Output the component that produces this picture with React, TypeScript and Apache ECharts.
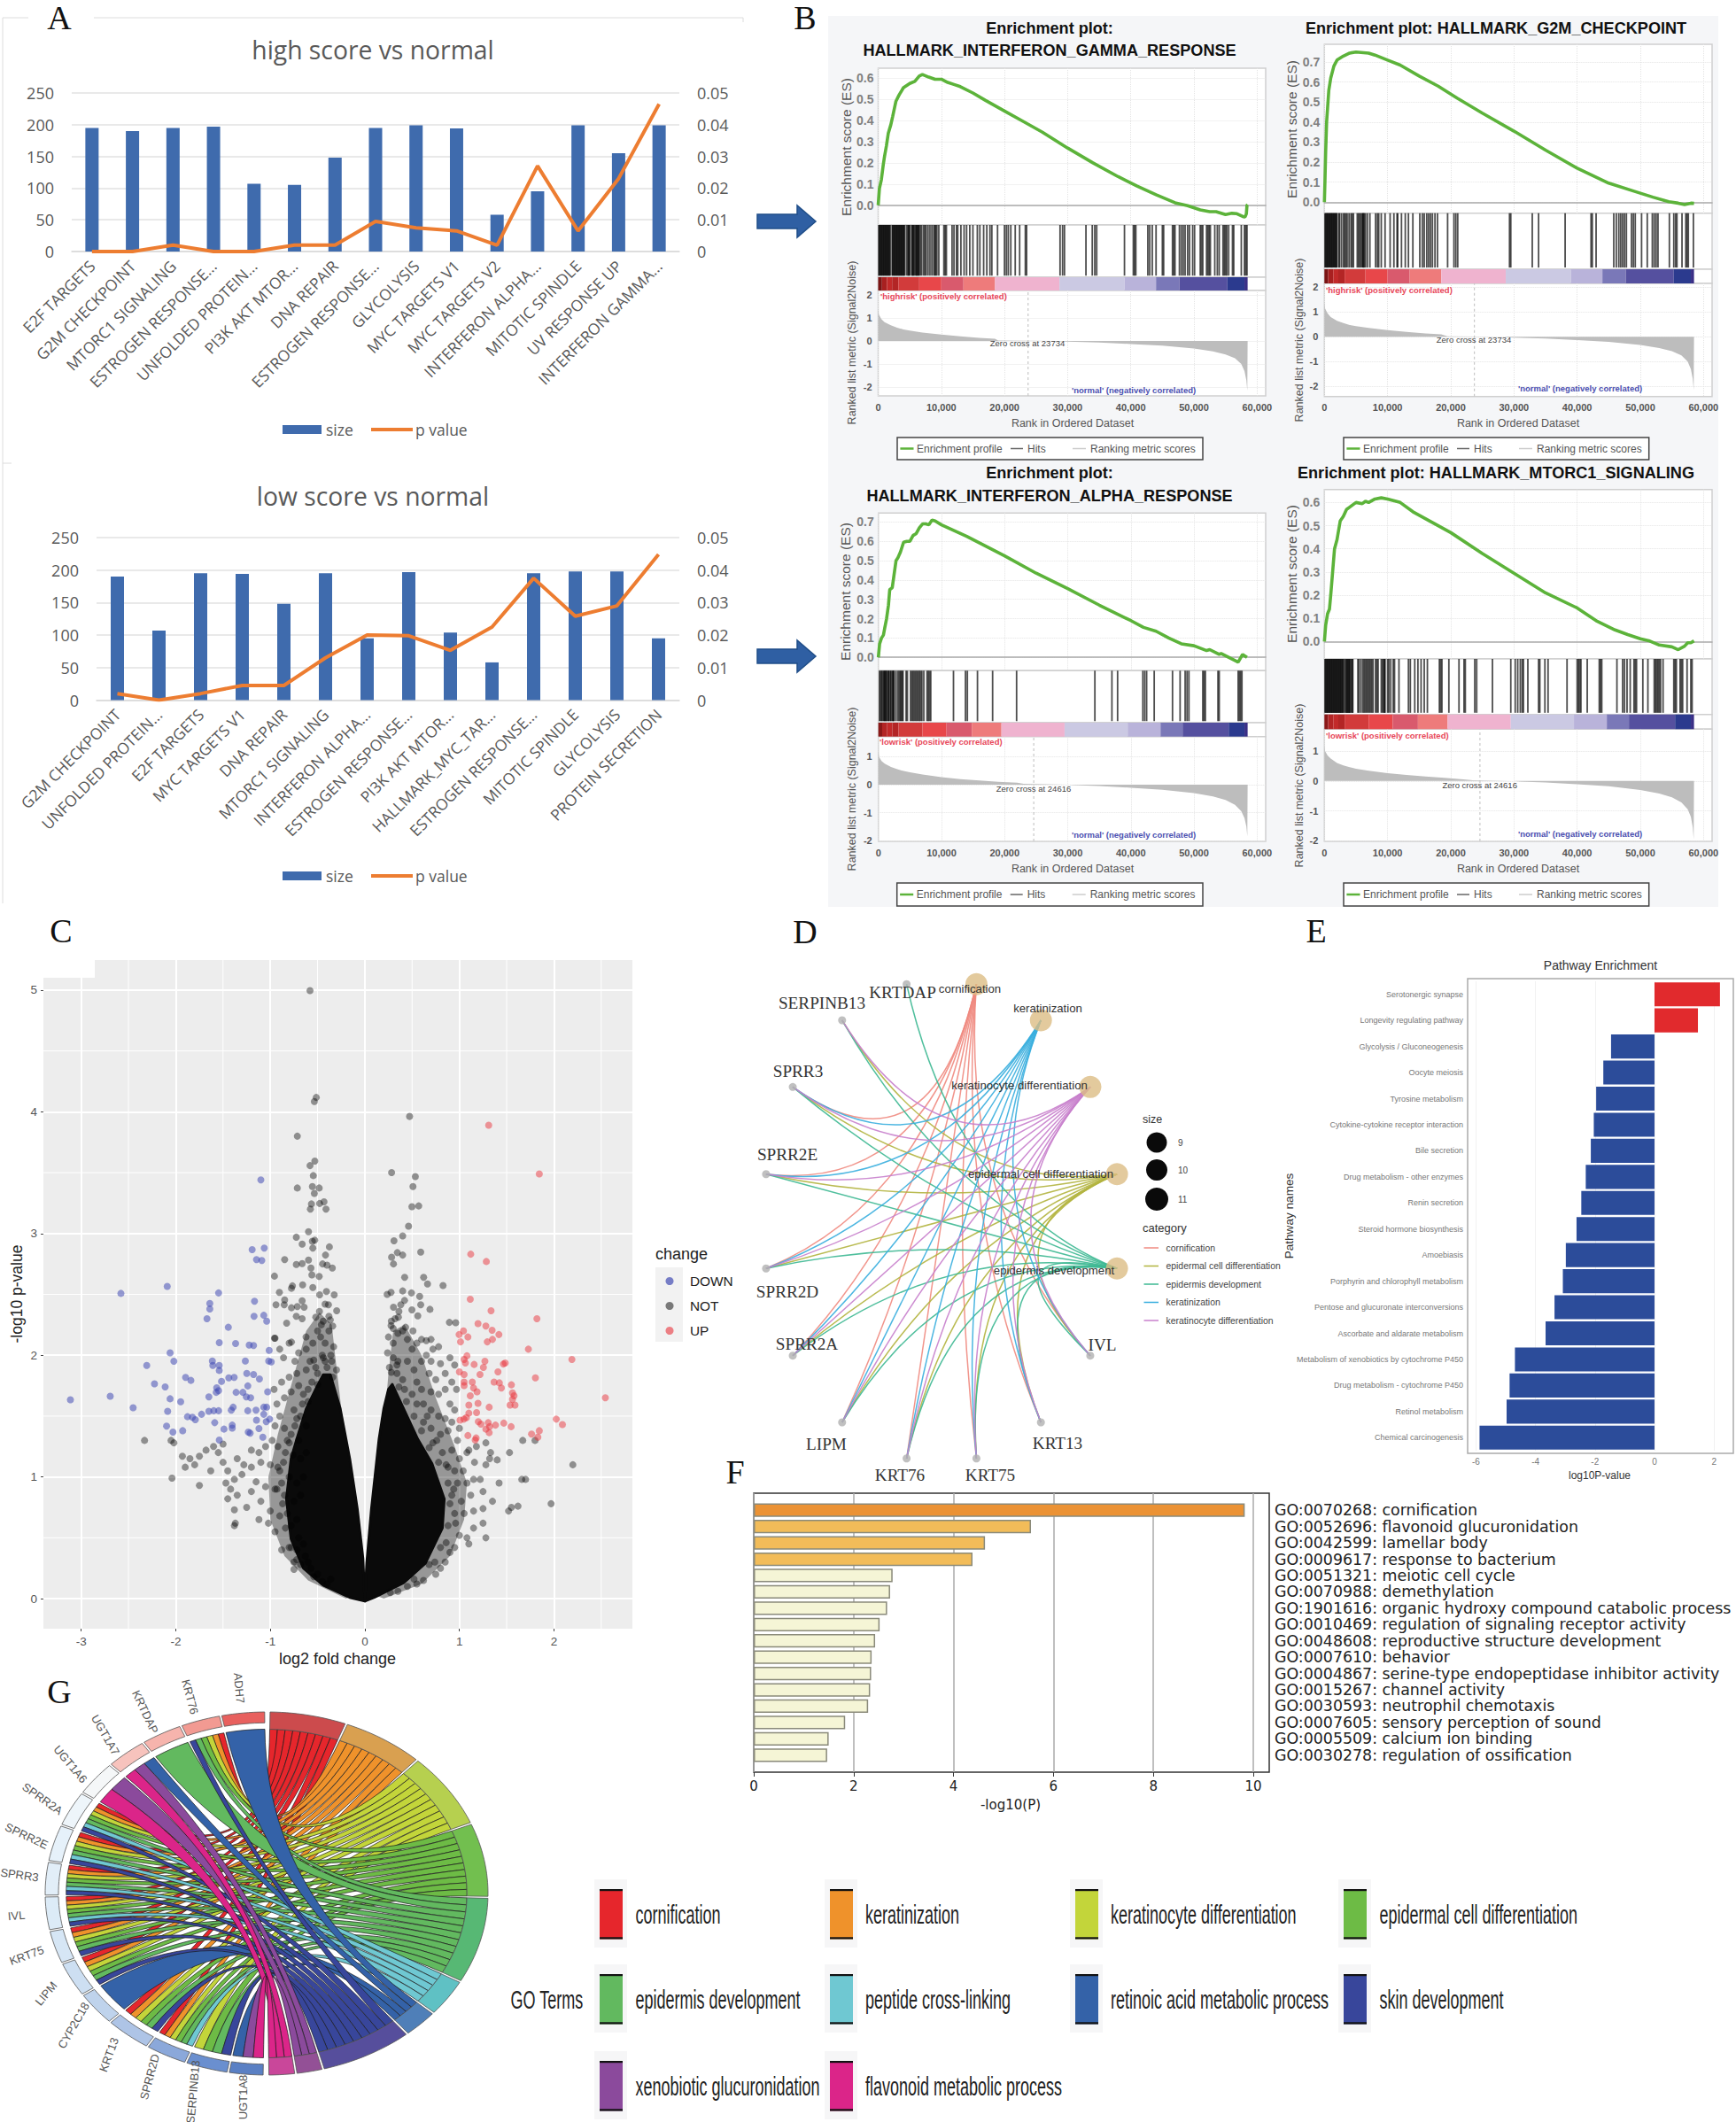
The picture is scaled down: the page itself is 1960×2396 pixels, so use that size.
import React, { useEffect, useRef } from "react";
import * as echarts from "echarts";

// ---------- Panel A ----------
const highCats = ["E2F TARGETS","G2M CHECKPOINT","MTORC1 SIGNALING","ESTROGEN RESPONSE...","UNFOLDED PROTEIN...","PI3K AKT MTOR...","DNA REPAIR","ESTROGEN RESPONSE...","GLYCOLYSIS","MYC TARGETS V1","MYC TARGETS V2","INTERFERON ALPHA...","MITOTIC SPINDLE","UV RESPONSE UP","INTERFERON GAMMA..."];
const highSize = [195,190,195,197,107,105,148,195,199,194,58,95,199,155,199];
const highP = [0,0,0.002,0,0,0.002,0.002,0.0095,0.0075,0.0065,0.002,0.027,0.0065,0.023,0.0465];
const lowCats = ["G2M CHECKPOINT","UNFOLDED PROTEIN...","E2F TARGETS","MYC TARGETS V1","DNA REPAIR","MTORC1 SIGNALING","INTERFERON ALPHA...","ESTROGEN RESPONSE...","PI3K AKT MTOR...","HALLMARK_MYC_TAR...","ESTROGEN RESPONSE...","MITOTIC SPINDLE","GLYCOLYSIS","PROTEIN SECRETION"];
const lowSize = [190,107,195,194,148,195,95,197,104,58,195,198,198,95];
const lowP = [0.002,0,0.002,0.0045,0.0045,0.013,0.02,0.0198,0.0153,0.0225,0.0375,0.0258,0.029,0.0448];

// ---------- Panel B (rank in thousands) ----------
const es1 = [[0,0],[.2,.08],[.5,.12],[.8,.19],[1,.23],[1.3,.28],[1.6,.34],[2,.38],[2.3,.42],[2.8,.49],[3.3,.52],[4,.555],[5,.575],[5.8,.585],[6.5,.61],[7,.617],[8,.605],[9,.595],[10,.595],[11,.58],[12,.57],[13,.56],[15,.53],[17,.495],[20,.445],[23,.395],[26,.345],[30,.27],[34,.2],[38,.135],[41,.09],[44,.05],[47,.012],[49,-.002],[51,-.022],[52.5,-.03],[53.5,-.03],[55,-.044],[56,-.038],[56.8,-.04],[57.8,-.054],[58.1,-.055],[58.3,-.04],[58.4,0],[58.5,.003]];
const es2 = [[0,0],[.1,.12],[.2,.25],[.35,.4],[.5,.47],[.7,.56],[1,.62],[1.5,.68],[2,.71],[3,.73],[4,.745],[5,.75],[7,.745],[8,.735],[10,.71],[12,.685],[15,.63],[18,.58],[21,.52],[25,.445],[30,.355],[35,.26],[40,.17],[45,.095],[49,.055],[52,.025],[54.5,.002],[56,-.005],[57,-.012],[58,-.005],[58.5,-.006]];
const es3 = [[0,0],[.2,.07],[.5,.1],[.8,.115],[1,.15],[1.3,.2],[1.6,.27],[1.8,.35],[2.2,.36],[2.5,.43],[2.8,.5],[3.1,.515],[3.5,.545],[4,.595],[4.5,.6],[5,.6],[5.5,.63],[6,.64],[6.5,.67],[7,.69],[7.5,.69],[8,.685],[8.5,.71],[9,.705],[10,.685],[12,.655],[14,.625],[17,.575],[20,.525],[25,.435],[30,.355],[35,.27],[40,.19],[42,.155],[44,.135],[46,.1],[48,.07],[50,.06],[52,.035],[52.5,.04],[54,.015],[54.3,.02],[57,-.025],[57.7,.015],[58.4,0]];
const es4 = [[0,0],[.2,.07],[.5,.12],[.8,.14],[1,.2],[1.3,.3],[1.6,.4],[2,.44],[2.5,.52],[3,.54],[3.5,.57],[4,.58],[5,.6],[6,.595],[6.5,.605],[7,.6],[8,.615],[9,.62],[10,.615],[12,.6],[14,.56],[17,.515],[20,.47],[25,.38],[30,.295],[35,.21],[40,.145],[43,.09],[46,.05],[48,.03],[50,.012],[51.5,.002],[53,-.015],[55,-.023],[56,-.035],[57,-.02],[57.5,-.005],[58,-.005],[58.5,.003]];
const hits1 = [.1,.2,.3,.4,.5,.6,.7,.8,.9,1,1.1,1.2,1.3,1.4,1.5,1.6,1.7,1.8,1.9,2.2,2.3,2.4,2.5,2.6,2.7,2.8,2.9,3,3.1,3.2,3.3,3.4,3.5,3.6,3.7,3.8,3.9,4,4.1,4.2,4.5,4.7,4.8,4.9,5,5.3,5.4,5.5,5.6,5.7,5.9,6,6.1,6.2,6.3,6.4,6.5,6.7,6.9,7.2,7.4,7.6,7.9,8.2,8.5,8.8,9,9.1,9.3,9.6,10.4,10.6,10.8,11.7,12,12.4,12.6,13.1,13.6,14,14.5,15,15.7,16.1,16.7,17.2,17.7,18,18.9,20,20.3,20.6,21,21.7,22.4,23.3,23.5,28.8,29.2,29.5,32.9,33.9,34.3,34.6,39,40.4,40.6,40.8,42.7,43,43.4,44,45,45.2,46.6,46.8,47,47.7,48,48.3,48.6,49,49.3,49.8,50.1,51,51.2,51.4,52,52.2,52.4,52.6,53.3,53.7,54,54.6,54.8,55,55.2,55.5,56.1,56.3,57.5,58,58.2,58.4];
const hits2 = [.1,.2,.3,.4,.5,.6,.7,.8,.9,1,1.1,1.2,1.3,1.4,1.5,1.6,1.7,1.8,1.9,2,2.3,2.4,2.7,3,3.2,3.4,3.6,3.9,4.2,4.4,4.6,5.2,5.4,5.6,5.8,6,6.1,6.2,6.3,6.5,6.8,7.2,8.1,8.4,8.6,9,9.6,10.4,11,11.5,11.6,12.2,12.8,13.3,14,15.1,15.5,15.8,16.2,16.5,16.8,17.1,17.5,17.9,19.5,20.5,20.8,21.1,29.3,29.5,32.9,33.9,38.1,42.2,42.4,43,45.8,46.2,46.6,46.9,47.2,47.5,47.8,48.6,48.9,49.2,50.2,51.1,51.9,52.2,52.5,52.8,54.6,55.3,55.6,55.8,56.6,57.2,57.4,57.6,58.4];
const hits3 = [.2,.3,.5,.6,.8,.9,1,1.1,1.2,1.3,1.5,1.6,1.7,1.9,2,2.2,2.3,2.4,2.5,2.8,3.1,3.3,3.5,3.6,3.8,3.9,4.4,4.6,5.1,5.3,5.5,5.7,5.9,6.1,6.3,6.5,6.7,6.9,7.2,7.7,7.9,8.1,8.3,11.9,13.8,14.1,15.7,18.1,21.9,34.3,37,37.9,41.9,42.2,42.5,43.7,46.6,47.8,48.6,48.9,49.2,51.4,51.6,51.8,53.8,54,57,57.2,57.4,57.6];
const hits4 = [.1,.2,.3,.4,.5,.6,.7,.8,.9,1,1.1,1.2,1.3,1.4,1.5,1.6,1.7,1.8,1.9,2,2.1,2.2,2.3,2.4,2.5,2.6,2.7,2.8,2.9,3,3.2,3.4,3.5,3.6,3.7,3.8,3.9,4,4.1,4.3,4.4,4.5,5.3,5.5,5.8,6.1,6.3,6.5,6.7,6.9,7.1,7.3,7.5,7.7,8.1,8.3,8.5,9,9.2,9.4,9.5,9.6,10,10.2,10.5,10.9,11.1,11.8,13.3,13.6,14.3,14.8,15.3,15.8,16.3,18.2,18.4,18.6,19.7,21.3,22.1,22.3,23.8,24.1,26.6,29.5,30.2,30.6,31,31.3,31.5,32.2,33.9,34.1,34.9,35.4,38.4,40,40.2,40.4,40.6,41.6,43.5,43.7,43.9,46.3,47.2,47.5,47.9,48.4,49,49.2,49.4,50.4,51.2,52.2,52.4,52.6,52.8,53,53.2,53.6,55.3,55.5,55.7,56.3,56.5,56.7,57.4,58,58.2];
const rank1 = [[0,1.4],[.1,1.15],[.5,.95],[1,.82],[2,.68],[3,.58],[4,.5],[5,.45],[7,.37],[10,.28],[13,.2],[16,.14],[18.5,.1],[19,.02],[28.5,0],[29,-.02],[30,-.03],[35,-.07],[40,-.13],[45,-.2],[50,-.33],[53,-.45],[55,-.58],[56.5,-.75],[57.5,-1],[58,-1.3],[58.3,-1.7],[58.45,-2.15],[58.5,0]];
const rank2 = [[0,1.4],[.1,1.15],[.5,.95],[1,.8],[2,.65],[3,.56],[4,.48],[5,.43],[7,.36],[10,.27],[13,.2],[16,.14],[18.5,.1],[19.5,.02],[28.5,0],[29,-.02],[30,-.03],[35,-.07],[40,-.13],[45,-.2],[50,-.33],[53,-.45],[55,-.58],[56.5,-.75],[57.5,-1],[58,-1.3],[58.3,-1.7],[58.45,-2.15],[58.5,0]];
const rank3 = [[0,1.2],[.1,1],[.5,.85],[1,.75],[2,.63],[3,.55],[4,.49],[5,.44],[7,.36],[10,.27],[13,.2],[16,.15],[19,.1],[22,.07],[23,.03],[30,0],[31,-.02],[35,-.05],[40,-.11],[45,-.18],[50,-.3],[53,-.42],[55,-.55],[56.5,-.72],[57.5,-.95],[58,-1.2],[58.3,-1.5],[58.45,-1.85],[58.5,0]];
const rank4 = [[0,1.2],[.1,1],[.5,.85],[1,.75],[2,.6],[3,.52],[4,.46],[5,.41],[7,.34],[10,.26],[13,.2],[16,.15],[19,.1],[22,.05],[23.5,.02],[30,0],[31,-.02],[35,-.05],[40,-.11],[45,-.18],[50,-.3],[53,-.42],[55,-.55],[56.5,-.72],[57.5,-.95],[58,-1.2],[58.3,-1.55],[58.45,-1.95],[58.5,0]];
const bandHigh = [[0,.6,"#7a1414"],[.6,1.4,"#a82020"],[1.4,2.2,"#c22a2a"],[2.2,3.2,"#b32525"],[3.2,6.5,"#d23b3b"],[6.5,10,"#e8474a"],[10,13.5,"#d95a6d"],[13.5,18.5,"#ee7b7b"],[18.5,28.7,"#efb3cf"],[28.7,39,"#cbc9e3"],[39,44,"#b9b3da"],[44,47.7,"#7a78b8"],[47.7,55.3,"#55509f"],[55.3,58,"#2b3a8e"],[58,58.5,"#3a2f86"]];
const bandLow = [[0,.6,"#8a1818"],[.6,1.4,"#b32525"],[1.4,2.2,"#c22a2a"],[2.2,3.2,"#b32525"],[3.2,7,"#d23b3b"],[7,10.8,"#e8474a"],[10.8,14.8,"#d95a6d"],[14.8,19.5,"#ee7b7b"],[19.5,29.5,"#efb3cf"],[29.5,39.5,"#cbc9e3"],[39.5,44.7,"#b9b3da"],[44.7,48.2,"#7a78b8"],[48.2,55.5,"#55509f"],[55.5,58,"#2b3a8e"],[58,58.5,"#3a2f86"]];
const gseaTitles = [["Enrichment plot:","HALLMARK_INTERFERON_GAMMA_RESPONSE"],["Enrichment plot: HALLMARK_G2M_CHECKPOINT"],["Enrichment plot:","HALLMARK_INTERFERON_ALPHA_RESPONSE"],["Enrichment plot: HALLMARK_MTORC1_SIGNALING"]];
const gseaPos = ["'highrisk' (positively correlated)","'highrisk' (positively correlated)","'lowrisk' (positively correlated)","'lowrisk' (positively correlated)"];
const gseaNeg = "'normal' (negatively correlated)";
const zeroCross = [23.734,23.734,24.616,24.616];

// ---------- Panel C (log2FC, -log10 p) ----------
const upPoints = [[1.31,3.89],[1.845,3.49],[1.12,2.83],[1.285,2.77],[1.115,2.46],[1.335,2.365],[1.82,2.3],[1.197,2.26],[1.28,2.24],[1.346,2.205],[1.418,2.17],[1.043,2.2],[.997,2.17],[1.09,2.15],[1.012,2.11],[1.295,2.11],[1.35,2.13],[1.73,2.05],[2.19,1.965],[1.08,1.995],[1.05,1.965],[1.064,1.936],[1.156,1.924],[1.27,1.95],[1.254,1.9],[1.485,1.936],[1.465,1.928],[1.408,1.863],[1.218,1.842],[1,1.863],[1.05,1.842],[1.05,1.78],[1.136,1.78],[1.367,1.78],[1.423,1.773],[1.804,1.814],[1.444,1.73],[1.55,1.757],[1.05,1.75],[1.15,1.73],[1.187,1.7],[1.562,1.69],[1.578,1.667],[1.115,1.667],[1.562,1.638],[2.544,1.65],[1.197,1.605],[1.1,1.59],[1.315,1.573],[1.536,1.59],[1.588,1.59],[1.182,1.528],[1.1,1.524],[1.074,1.487],[1.048,1.475],[1.007,1.467],[2.025,1.475],[2.09,1.43],[1.2,1.454],[1.305,1.446],[1.382,1.426],[1.47,1.442],[1.547,1.413],[1.228,1.434],[1.32,1.413],[1.28,1.393],[1.315,1.364],[1.09,1.34],[1.177,1.32],[1.167,1.303],[1.763,1.352],[1.845,1.38],[1.83,1.327]];
const downPoints = [[-1.1,3.44],[-1.192,2.868],[-1.064,2.88],[-1.146,2.786],[-1.09,2.778],[-2.09,2.565],[-2.58,2.508],[-1.547,2.512],[-1.64,2.426],[-1.64,2.38],[-1.167,2.443],[-1.172,2.32],[-1.069,2.328],[-1.67,2.3],[-1.038,2.28],[-1.444,2.23],[-1.54,2.104],[-1.367,2.096],[-1.223,2.083],[-1.177,2.08],[-1.012,2.04],[-2.06,2.02],[-2.02,1.95],[-2.307,1.916],[-1.613,1.953],[-1.608,1.916],[-1.54,1.916],[-1.54,1.875],[-1.264,1.953],[-1.017,1.953],[-.99,1.945],[-1.249,1.85],[-1.177,1.842],[-1.115,1.805],[-1.896,1.818],[-1.84,1.793],[-1.439,1.814],[-1.382,1.818],[-1.516,1.785],[-2.225,1.765],[-2.112,1.74],[-1.238,1.748],[-1.567,1.732],[-1.547,1.708],[-1.572,1.695],[-1.362,1.695],[-1.29,1.695],[-1.028,1.7],[-2.693,1.663],[-3.114,1.634],[-2.06,1.642],[-1.65,1.658],[-1.254,1.658],[-1.208,1.65],[-1.948,1.618],[-2.451,1.569],[-1.393,1.573],[-2.086,1.54],[-1.727,1.515],[-1.65,1.54],[-1.598,1.544],[-1.547,1.544],[-1.413,1.548],[-1.238,1.544],[-1.151,1.548],[-1.069,1.573],[-1.038,1.573],[-1.069,1.515],[-1.876,1.495],[-1.824,1.49],[-1.793,1.47],[-1.146,1.467],[-1.007,1.475],[-1.043,1.454],[-1.588,1.446],[-2.097,1.417],[-1.403,1.426],[-1.403,1.401],[-1.49,1.393],[-1.12,1.397],[-2.03,1.368],[-1.927,1.38],[-1.233,1.368],[-1.213,1.36],[-1.079,1.327],[-1.54,1.303]];
const notPoints = [[-.58,4.996],[-.514,4.118],[-.534,4.085],[.473,3.962],[-.714,3.8],[-.529,3.595],[-.58,3.558],[-.545,3.476],[.283,3.5],[.534,3.468],[-.714,3.374],[-.555,3.386],[-.483,3.374],[.509,3.386],[-.534,3.33],[-.565,3.243],[-.478,3.247],[-.432,3.26],[-.576,3.2],[-.411,3.2],[.498,3.22],[.57,3.227],[.462,3.06],[-.596,3.015],[-.725,2.97],[.4,2.98],[.308,2.94],[-.663,2.913],[-.555,2.937],[-.53,2.945],[-.375,2.89],[-.55,2.88],[-.416,2.823],[.591,2.847],[.344,2.843],[.283,2.806],[.4,2.823],[.303,2.75],[-.848,2.786],[-.725,2.745],[-.596,2.782],[-.663,2.753],[-.447,2.75],[-.57,2.717],[-.4,2.74],[-.344,2.717],[-.956,2.65],[-.56,2.66],[-.483,2.647],[.421,2.64],[.622,2.64],[.663,2.586],[.827,2.573],[-.766,2.57],[-.658,2.578],[-.904,2.516],[-.776,2.55],[-.55,2.557],[-.478,2.496],[-.406,2.524],[-.324,2.496],[.236,2.5],[.277,2.516],[.4,2.528],[.493,2.512],[.58,2.483],[-.848,2.455],[-.663,2.447],[-.94,2.414],[-.853,2.414],[-.776,2.39],[-.714,2.4],[-.642,2.394],[-.385,2.414],[-.298,2.365],[.303,2.394],[.38,2.414],[.498,2.373],[.689,2.377],[.591,2.414],[.56,2.324],[.355,2.312],[-.827,2.263],[-.663,2.3],[-.725,2.32],[-.519,2.312],[-.365,2.29],[.894,2.27],[.961,2.267],[.277,2.243],[.431,2.23],[.509,2.2],[-.956,2.14],[-.776,2.108],[-.622,2.15],[-.468,2.15],[-.95,2.14],[-.9,2.05],[-.86,1.98],[-.8,2.1],[-.74,1.95],[-.7,2.02],[-.62,2.05],[-.58,1.95],[-.55,2.1],[-.5,2.2],[-.46,2.25],[-.42,2.1],[-.38,2.2],[-.36,2],[-.33,2.07],[-.45,2],[-.52,1.9],[-.62,1.88],[-.72,1.85],[-.8,1.82],[-.88,1.78],[-.96,1.72],[-.93,1.6],[-.85,1.65],[-.78,1.7],[-.7,1.75],[-.65,1.68],[-.6,1.72],[-.75,1.55],[-.68,1.5],[-.9,1.5],[-.95,1.42],[-.85,1.4],[-.78,1.35],[-.7,1.3],[-.62,1.42],[-.98,1.3],[-.92,1.25],[-.84,1.2],[-.76,1.18],[-.68,1.15],[-.62,1.2],[-1,1.1],[-.9,1.05],[-.8,1],[-.72,.95],[-.65,1],[-.95,.9],[-.85,.85],[-.75,.8],[-.68,.85],[-.82,.7],[-.72,.65],[-.78,.6],[-.7,.5],[-.65,.45],[-.72,.4],[-.63,.35],[-.6,.3],[-.57,.25],[-.5,.2],[-.45,.14],[-.4,.12],[-.36,.16],[-1.05,1.25],[-1.12,1.2],[-1.2,1.22],[-1.1,1.12],[-1.2,1.08],[-1.28,1.1],[-1.35,1.15],[-1.3,1.02],[-1.38,.98],[-1.45,1.05],[-1.42,.9],[-1.5,1.27],[-1.6,1.25],[-1.68,1.22],[-1.75,1.17],[-1.85,1.15],[-1.8,1.1],[-1.9,1.08],[-1.93,1.17],[-1.55,1.2],[-1.5,1.12],[-1.47,.95],[-1.45,.82],[-1.35,.85],[-1.38,.73],[-1.38,.6],[-1.37,.62],[-1.25,.75],[-1.12,.65],[-1.1,.8],[-1,.72],[-1.02,.62],[-.95,.55],[-.88,.4],[-.8,.42],[-.75,.3],[-.75,.24],[-1.2,.88],[-1.15,.96],[-1.05,.92],[-2.33,1.3],[-2.05,1.3],[-2.02,1.28],[-2.04,.99],[-1.75,.93],[-1.63,1.05],[-.42,1.95],[-.5,1.85],[-.4,1.9],[-.35,1.95],[-.3,1.88],[-.44,2.28],[-.38,2.32],[-.34,2.24],[-.48,2.36],[-.42,2.42],[.3,2.22],[.35,2.18],[.25,2.15],[.3,2.1],[.4,2.2],[.45,2.13],[.5,2.05],[.55,2.1],[.6,2.13],[.65,2.12],[.7,2.13],[.72,2.05],[.78,2.07],[.65,2],[.6,1.95],[.7,1.95],[.8,1.93],[.9,1.98],[.95,1.92],[.35,1.95],[.45,1.95],[.52,1.88],[.68,1.85],[.75,1.8],[.85,1.85],[.92,1.78],[.97,1.72],[.55,1.78],[.6,1.72],[.7,1.7],[.78,1.68],[.85,1.72],[.9,1.6],[.95,1.55],[.55,1.6],[.62,1.6],[.7,1.55],[.78,1.5],[.85,1.48],[.92,1.45],[.62,1.45],[.7,1.4],[.8,1.35],[.88,1.38],[.98,1.3],[.72,1.28],[.82,1.2],[.92,1.22],[1,1.15],[1.08,1.2],[1.18,1.25],[1.28,1.28],[1.32,1.15],[1.16,1.12],[1.04,1.05],[.95,1.05],[.88,1.08],[.98,.95],[1.08,.95],[1.15,.98],[1.22,.98],[1.25,.88],[1.12,.85],[1.02,.8],[.92,.85],[.95,.7],[1.05,.7],[1.15,.72],[1.25,.74],[1.35,.8],[1.25,.62],[1.15,.58],[1.08,.5],[1.1,.45],[1,.52],[.95,.42],[.9,.38],[.85,.3],[.8,.25],[.75,.2],[.62,.15],[.55,.12],[.45,.1],[.35,.06],[.27,.05],[1.28,.5],[1.52,.72],[1.55,.75],[1.62,.76],[1.97,.78],[1.66,.98],[1.7,.98],[1.42,.95],[1.4,1.14],[1.53,1.2],[1.8,1.3],[1.67,1.3],[2.2,1.1],[1.33,1.2],[1.28,1.1],[1,1.4],[1.1,1.22],[.3,1.98],[.26,1.9],[.34,1.85],[.4,1.8],[.24,2.02],[.32,2.3],[.36,2.36],[.42,2.45],[.28,2.28],[-.56,1.78],[-.5,1.76],[-.66,1.6],[-.74,1.42],[-.8,1.28],[-.86,1.12],[-.88,.95],[-.87,.78],[-.84,.58],[-.78,.42],[-.68,.28],[-.54,.18],[-.44,1.98],[-.54,1.96],[-.34,1.82],[-.6,1.62],[-.72,1.48],[-.82,1.3],[-.92,1.08],[-.93,.9],[-.9,.68],[-.72,.32],[.28,1.86],[.36,1.74],[.44,1.62],[.52,1.5],[.6,1.38],[.68,1.24],[.78,1.12],[.88,.95],[.9,.78],[.88,.6],[.8,.42],[.68,.28],[.52,.16],[.34,1.92],[.42,1.72],[.5,1.68],[.66,1.5],[.76,1.3],[.86,1.1],[.94,.9],[.96,.62],[.86,.46],[.74,.3]];
const massLeft = [[0,-.02],[-.02,.33],[-.08,.74],[-.16,1.15],[-.26,1.56],[-.365,1.84],[-.44,1.84],[-.52,1.72],[-.62,1.56],[-.72,1.31],[-.78,1.15],[-.83,.82],[-.78,.49],[-.65,.25],[-.44,.11],[-.16,.01]];
const massRight = [[0,-.02],[.02,.29],[.07,.74],[.15,1.31],[.2,1.56],[.25,1.72],[.29,1.76],[.41,1.56],[.56,1.31],[.71,1.11],[.84,.82],[.82,.58],[.64,.29],[.41,.13],[.1,.01]];
const haloLeft = [[-.02,.05],[-.3,1.9],[-.35,2.25],[-.48,2.35],[-.62,2.2],[-.78,1.75],[-.92,1.35],[-1.02,1],[-1,.65],[-.85,.35],[-.6,.15],[-.2,0]];
const haloRight = [[.05,.05],[.25,1.85],[.3,2.2],[.42,2.25],[.6,2],[.75,1.65],[.95,1.25],[1.08,.95],[1.05,.65],[.9,.35],[.6,.12],[.2,0]];
const volcanoMinorX = [-2.5,-1.5,-.5,.5,1.5,2.5];
const volcanoMinorY = [.5,1.5,2.5,3.5,4.5];

// ---------- Panel D ----------
const netNodes = ["cornification","keratinization","keratinocyte differentiation","epidermal cell differentiation","epidermis development","IVL","KRT13","KRT75","KRT76","LIPM","SPRR2A","SPRR2D","SPRR2E","SPRR3","SERPINB13","KRTDAP"];
const netCategories = ["cornification","epidermal cell differentiation","epidermis development","keratinization","keratinocyte differentiation"];
const netColors = ["#f08a80","#b2b43f","#3db892","#38aede","#c880cc"];
const netMembers = {
  "cornification": ["SPRR3","SPRR2E","SPRR2D","SPRR2A","LIPM","KRT76","KRT75","KRT13","IVL"],
  "keratinization": ["SPRR3","SPRR2E","SPRR2D","SPRR2A","LIPM","KRT76","KRT75","KRT13","IVL"],
  "keratinocyte differentiation": ["SERPINB13","SPRR3","SPRR2E","SPRR2D","SPRR2A","LIPM","KRT76","KRT75","KRT13","IVL"],
  "epidermal cell differentiation": ["SERPINB13","SPRR3","SPRR2E","SPRR2D","SPRR2A","LIPM","KRT76","KRT75","KRT13","IVL"],
  "epidermis development": ["KRTDAP","SERPINB13","SPRR3","SPRR2E","SPRR2D","SPRR2A","LIPM","KRT76","KRT75","KRT13","IVL"],
};

// ---------- Panel E ----------
const pathNames = ["Serotonergic synapse","Longevity regulating pathway","Glycolysis / Gluconeogenesis","Oocyte meiosis","Tyrosine metabolism","Cytokine-cytokine receptor interaction","Bile secretion","Drug metabolism - other enzymes","Renin secretion","Steroid hormone biosynthesis","Amoebiasis","Porphyrin and chlorophyll metabolism","Pentose and glucuronate interconversions","Ascorbate and aldarate metabolism","Metabolism of xenobiotics by cytochrome P450","Drug metabolism - cytochrome P450","Retinol metabolism","Chemical carcinogenesis"];
const pathValues = [2.2,1.46,-1.46,-1.72,-1.96,-2.04,-2.14,-2.31,-2.46,-2.62,-2.98,-3.08,-3.36,-3.66,-4.69,-4.87,-4.97,-5.88];

// ---------- Panel F ----------
const goLabels = ["GO:0070268: cornification","GO:0052696: flavonoid glucuronidation","GO:0042599: lamellar body","GO:0009617: response to bacterium","GO:0051321: meiotic cell cycle","GO:0070988: demethylation","GO:1901616: organic hydroxy compound catabolic process","GO:0010469: regulation of signaling receptor activity","GO:0048608: reproductive structure development","GO:0007610: behavior","GO:0004867: serine-type endopeptidase inhibitor activity","GO:0015267: channel activity","GO:0030593: neutrophil chemotaxis","GO:0007605: sensory perception of sound","GO:0005509: calcium ion binding","GO:0030278: regulation of ossification"];
const goValues = [9.83,5.55,4.63,4.38,2.78,2.73,2.67,2.52,2.43,2.36,2.35,2.33,2.29,1.83,1.5,1.47];
const goFill = ["#eb9234","#f2bc59","#f2bc59","#f2bc59","#f5f5d6","#f5f5d6","#f5f5d6","#f5f5d6","#f5f5d6","#f5f5d6","#f5f5d6","#f5f5d6","#f5f5d6","#f5f5d6","#f5f5d6","#f5f5d6"];

// ---------- Panel G ----------
const chordTerms = ["cornification","keratinization","keratinocyte differentiation","epidermal cell differentiation","epidermis development","peptide cross-linking","retinoic acid metabolic process","skin development","xenobiotic glucuronidation","flavonoid metabolic process"];
const chordTermEnds = [20.9,42.6,67.1,91,118.8,131,140.4,165,172.2,179.5];
const chordColors = ["#e6262c","#ef922b","#c3d53a","#6dbb45","#62b95f","#6fc8d2","#3462a8","#38469b","#8b4a9c","#db2589"];
const chordRingColors = ["#cc4b4d","#d9a050","#b6d04f","#72bf4f","#57b874","#5fc1c4","#4f7fb8","#564e9c","#935096","#c9479a"];
const chordGenes = ["UGT1A8","SERPINB13","SPRR2D","KRT13","CYP2C18","LIPM","KRT75","IVL","SPRR3","SPRR2E","SPRR2A","UGT1A6","UGT1A7","KRTDAP","KRT76","ADH7"];
const chordGeneEnds = [189.8,201.2,212.4,224.8,235.9,247.2,258,269,280,291.9,303.4,314.9,325.9,337,347.8,359.6];
const chordGeneColors = ["#5a80c4","#6a8fcf","#8ba8da","#aec4e6","#bfd3ec","#cddff2","#d6e6f5","#dcebf7","#e2eef8","#e6f1fa","#eef5fa","#f5f7f8","#f7c3bd","#f6b4ad","#f29a92","#e8605e"];
const chordMembers = [[9,8,6],[7,4,3,2],[5,4,3,2,1,0],[7,4,3,2,1,0],[6],[7,4,3,2,1,0],[7,4,3,2,1,0],[7,5,4,3,2,1,0],[7,5,4,3,2,1,0],[7,5,4,3,2,1,0],[7,5,4,3,2,1,0],[9,8],[9,8,6],[4],[7,4,3,2,1,0],[6]];

// ---------- helpers ----------
const SANS = "Liberation Sans";
const OPEN = "Open Sans";
const SERIF = "Liberation Serif";
const DEJA = "DejaVu Sans";

function buildOption() {
  const grids: any[] = [], xs: any[] = [], ys: any[] = [], series: any[] = [], g: any[] = [];
  // Returns the index shared by the x and y axes of the new grid.
  const addGrid = (l: number, t: number, w: number, h: number, x: any, y: any, extra: any = {}) => {
    const gi = grids.length, ai = xs.length;
    grids.push({ left: l, top: t, width: w, height: h, containLabel: false, outerBoundsMode: "none", ...extra });
    xs.push({ gridIndex: gi, ...x });
    ys.push({ gridIndex: gi, ...y });
    return ai;
  };
  const txt = (text: string, x: number, y: number, o: any = {}) => g.push({
    type: "text", x, y, rotation: (o.rot || 0) * Math.PI / 180, scaleX: o.sx || 1, silent: true, z: o.z || 50,
    style: { text, fontSize: o.size || 12, fontFamily: o.family || SANS, fontWeight: o.weight || "normal", fill: o.color || "#333",
      align: o.align || "center", textAlign: o.align || "center", verticalAlign: "middle", textVerticalAlign: "middle" },
  });
  const rect = (x: number, y: number, w: number, h: number, style: any, z = 40) => g.push({ type: "rect", silent: true, z, shape: { x, y, width: w, height: h }, style });
  const hline = (x1: number, y1: number, x2: number, y2: number, stroke: string, lineWidth = 1, z = 40) => g.push({ type: "line", silent: true, z, shape: { x1, y1, x2, y2 }, style: { stroke, lineWidth } });

  // panel background for B goes first, behind its grids
  const hiddenAxis = (min: number, max: number) => ({ type: "value", min, max, show: false });
  addGrid(935, 18, 1005, 1006, hiddenAxis(0, 1), hiddenAxis(0, 1), { show: true, backgroundColor: "#f5f6f8", borderWidth: 0 });

  // Letters
  const letters: [string, number, number][] = [["A",67,20],["B",909,20],["C",69,1051],["D",909,1052],["E",1486,1051],["F",830,1662],["G",67,1910]];
  letters.forEach(([t, x, y]) => txt(t, x, y, { size: 38, family: SERIF, color: "#111" }));

  // ---- A ----
  hline(3,20,32,20,"#dcdcdc"); hline(106,20,839,20,"#dcdcdc"); hline(3,20,3,1020,"#dcdcdc"); hline(839,20,839,25,"#dcdcdc"); hline(3,523,13,523,"#dcdcdc");
  const comboChart = (cats: string[], size: number[], p: number[], left: number, top: number, height: number, title: string, titleY: number, legendY: number) => {
    const width = 767 - left;
    const ai = addGrid(left, top, width, height,
      { type: "category", data: cats, axisTick: { show: false }, axisLine: { lineStyle: { color: "#d9d9d9", width: 1.5 } },
        axisLabel: { interval: 0, rotate: 45, fontSize: 17.5, color: "#595959", fontFamily: OPEN, margin: 13 } },
      { type: "value", min: 0, max: 250, interval: 50, axisLine: { show: false }, axisTick: { show: false }, splitLine: { lineStyle: { color: "#e2e2e2", width: 1.5 } },
        axisLabel: { fontSize: 18, color: "#595959", fontFamily: OPEN, margin: 20 } });
    const gi = grids.length - 1;
    ys.push({ gridIndex: gi, type: "value", position: "right", min: 0, max: 0.05, interval: 0.01, axisLine: { show: false }, axisTick: { show: false }, splitLine: { show: false },
      axisLabel: { fontSize: 18, color: "#595959", fontFamily: OPEN, margin: 20, formatter: (v: number) => v === 0 ? "0" : String(+v.toFixed(2)) } });
    xs.push({ gridIndex: gi, type: "category", data: cats, show: false });
    series.push({ type: "bar", xAxisIndex: ai, yAxisIndex: ai, data: size, barWidth: 15, itemStyle: { color: "#3f6bad" }, silent: true });
    series.push({ type: "line", xAxisIndex: ai + 1, yAxisIndex: ai + 1, data: p, symbol: "none", lineStyle: { color: "#ed7d31", width: 4 }, silent: true });
    txt(title, 421, titleY, { size: 28.3, family: OPEN, color: "#595959" });
    rect(319, legendY - 5, 44, 10, { fill: "#3f6bad" });
    txt("size", 368, legendY, { size: 17.5, family: OPEN, color: "#595959", align: "left" });
    hline(419, legendY, 466, legendY, "#ed7d31", 4);
    txt("p value", 469, legendY, { size: 17.5, family: OPEN, color: "#595959", align: "left" });
  };
  comboChart(highCats, highSize, highP, 81, 105, 179, "high score vs normal", 56, 485);
  comboChart(lowCats, lowSize, lowP, 109, 607, 183.5, "low score vs normal", 560, 989);

  const arrow = (cy: number) => g.push({ type: "polygon", silent: true, z: 40, shape: { points: [[855,cy-8],[900,cy-8],[900,cy-18],[921,cy],[900,cy+18],[900,cy+8],[855,cy+8]] }, style: { fill: "#2f5fa3", stroke: "#1f4e89", lineWidth: 1.5 } });
  arrow(250); arrow(741);

  // ---- B ----
  const gseaLayout = [
    { x0: 991.5, w: 437.5, esT: 77, esB: 254, hitB: 313, bandB: 328, rankB: 447, esMin: -.093, esMax: .647, esTicks: [0,.1,.2,.3,.4,.5,.6], rMin: -2.38, rMax: 2.19, rTicks: [-2,-1,0,1,2], t: [[1185,32],[1185,57]], pos: [994,334], neg: [1210,440], zero: [1160,387], leg: [1013,494,345,25], xt: 478, xLab: 1211, yT: [955,166], yR: [962,387], es: es1, hits: hits1, rank: rank1, band: bandHigh },
    { x0: 1495.3, w: 437.7, esT: 50, esB: 240.7, hitB: 304, bandB: 320, rankB: 447.7, esMin: -.055, esMax: .789, esTicks: [0,.1,.2,.3,.4,.5,.6,.7], rMin: -2.41, rMax: 2.16, rTicks: [-2,-1,0,1,2], t: [[1689,31.7]], pos: [1497,327], neg: [1714,438.7], zero: [1664,383], leg: [1517,494,344.7,25], xt: 478, xLab: 1714, yT: [1458,146], yR: [1467,384], es: es2, hits: hits2, rank: rank2, band: bandHigh },
    { x0: 991.7, w: 437.3, esT: 579.3, esB: 757.3, hitB: 816, bandB: 831.7, rankB: 950, esMin: -.069, esMax: .746, esTicks: [0,.1,.2,.3,.4,.5,.6,.7], rMin: -2.03, rMax: 1.72, rTicks: [-2,-1,0,1], t: [[1185,534],[1185,560]], pos: [993,837], neg: [1210,942.7], zero: [1167,890], leg: [1012.7,997,345.3,26], xt: 981, xLab: 1211, yT: [954,668], yR: [962,891], es: es3, hits: hits3, rank: rank3, band: bandLow },
    { x0: 1495.3, w: 437.7, esT: 552.7, esB: 744, hitB: 806.7, bandB: 823.3, rankB: 950, esMin: -.075, esMax: .656, esTicks: [0,.1,.2,.3,.4,.5,.6], rMin: -2.02, rMax: 1.73, rTicks: [-2,-1,0,1], t: [[1689,534]], pos: [1497,830], neg: [1714,941.7], zero: [1670.7,886], leg: [1517,997,344.7,26], xt: 981, xLab: 1714, yT: [1458,648], yR: [1467,887], es: es4, hits: hits4, rank: rank4, band: bandLow },
  ];
  const xTicks = [0,10,20,30,40,50,60];
  const dotted = { lineStyle: { color: "#e4e4e4", type: "dotted" as const, width: 1 } };
  const border = { show: true, borderColor: "#cfcfcf", borderWidth: 1.5, backgroundColor: "#fff" };
  const vLineItem = (stroke: string, width: number, dash?: number[]) => (params: any, api: any) => {
    const a = api.coord([api.value(0), 0]), b = api.coord([api.value(0), 1]);
    return { type: "line", shape: { x1: a[0], y1: a[1], x2: b[0], y2: b[1] }, style: { stroke, lineWidth: width, lineDash: dash } };
  };
  gseaLayout.forEach((p, k) => {
    const xmax = 61.36;
    const vX = { type: "value", min: 0, max: xmax, axisTick: { show: false, customValues: xTicks }, axisLabel: { show: false, customValues: xTicks }, splitLine: { show: true, ...dotted }, axisLine: { show: false } };
    const es = addGrid(p.x0, p.esT, p.w, p.esB - p.esT,
      { ...vX, axisLine: { show: true, onZero: true, lineStyle: { color: "#aaa", width: 1.5 } } },
      { type: "value", min: p.esMin, max: p.esMax, axisTick: { show: false, customValues: p.esTicks }, axisLine: { show: false, onZero: false }, splitLine: { show: true, ...dotted },
        axisLabel: { customValues: p.esTicks, fontSize: 14, color: "#808080", fontFamily: SANS, fontWeight: "bold", margin: 5, formatter: (v: number) => v.toFixed(1) } }, border);
    series.push({ type: "line", xAxisIndex: es, yAxisIndex: es, data: p.es, symbol: "none", lineStyle: { color: "#5cb33a", width: 3.6 }, silent: true });
    const hit = addGrid(p.x0, p.esB, p.w, p.hitB - p.esB, { ...vX, splitLine: { show: false } }, hiddenAxis(0, 1), border);
    series.push({ type: "custom", xAxisIndex: hit, yAxisIndex: hit, data: p.hits.map((v) => [v, .5]), silent: true, renderItem: (pa: any, api: any) => {
      const a = api.coord([api.value(0), .03]), b = api.coord([api.value(0), 1]);
      return { type: "line", shape: { x1: a[0], y1: a[1], x2: b[0], y2: b[1] }, style: { stroke: "rgba(10,10,10,.72)", lineWidth: 1.8 } };
    } });
    const band = addGrid(p.x0, p.hitB, p.w, p.bandB - p.hitB, { ...vX, splitLine: { show: false } }, hiddenAxis(0, 1), border);
    series.push({ type: "custom", xAxisIndex: band, yAxisIndex: band, data: p.band.map((b: any) => [b[0], b[1]]), silent: true, renderItem: (pa: any, api: any) => {
      const a = api.coord([api.value(0), 1]), b = api.coord([api.value(1), 0]);
      return { type: "rect", shape: { x: a[0], y: a[1], width: b[0] - a[0], height: b[1] - a[1] }, style: { fill: p.band[pa.dataIndex][2] } };
    } });
    const rk = addGrid(p.x0, p.bandB, p.w, p.rankB - p.bandB,
      { type: "value", min: 0, max: xmax, axisTick: { show: false, customValues: xTicks }, axisLine: { show: false, onZero: false }, splitLine: { show: true, ...dotted },
        axisLabel: { customValues: xTicks, fontSize: 11, color: "#555", fontFamily: SANS, fontWeight: "bold", margin: 7, formatter: (v: number) => (v * 1000).toLocaleString("en-US") } },
      { type: "value", min: p.rMin, max: p.rMax, axisTick: { show: false, customValues: p.rTicks }, axisLine: { show: false, onZero: false }, splitLine: { show: true, ...dotted },
        axisLabel: { customValues: p.rTicks, fontSize: 11, color: "#555", fontFamily: SANS, fontWeight: "bold", margin: 7 } }, border);
    series.push({ type: "line", xAxisIndex: rk, yAxisIndex: rk, data: p.rank, symbol: "none", lineStyle: { width: 0 }, areaStyle: { color: "#bdbdbd", opacity: 1 }, silent: true });
    const rkH = addGrid(p.x0, p.bandB, p.w, p.rankB - p.bandB, hiddenAxis(0, xmax), hiddenAxis(0, 1));
    series.push({ type: "custom", xAxisIndex: rkH, yAxisIndex: rkH, data: [[zeroCross[k], .5]], silent: true, renderItem: vLineItem("#c8c8c8", 1.2, [3, 3]) });
    gseaTitles[k].forEach((t, i) => txt(t, p.t[i][0], p.t[i][1], { size: 18.1, weight: "bold", color: "#111" }));
    txt(gseaPos[k], p.pos[0], p.pos[1], { size: 9.5, weight: "bold", color: "#e8475a", align: "left" });
    txt(gseaNeg, p.neg[0], p.neg[1], { size: 9.5, weight: "bold", color: "#4b4fb0", align: "left" });
    txt("Zero cross at " + Math.round(zeroCross[k] * 1000), p.zero[0], p.zero[1], { size: 9.5, color: "#444" });
    txt("Rank in Ordered Dataset", p.xLab, p.xt, { size: 12.5, color: "#555" });
    txt("Enrichment score (ES)", p.yT[0], p.yT[1], { size: 15.5, color: "#555", rot: 90 });
    txt("Ranked list metric (Signal2Noise)", p.yR[0], p.yR[1], { size: 12.5, color: "#555", rot: 90 });
    const [lx, ly, lw, lh] = p.leg;
    rect(lx, ly, lw, lh, { fill: "#fff", stroke: "#444", lineWidth: 1.5 });
    const mid = ly + lh / 2;
    hline(lx + 3.4, mid, lx + 18.5, mid, "#5cb33a", 2.5, 41);
    txt("Enrichment profile", lx + 22, mid, { size: 12, color: "#555", align: "left" });
    hline(lx + 128, mid, lx + 142, mid, "#666", 1.5, 41);
    txt("Hits", lx + 147, mid, { size: 12, color: "#555", align: "left" });
    hline(lx + 198, mid, lx + 213, mid, "#ccc", 1.5, 41);
    txt("Ranking metric scores", lx + 218, mid, { size: 12, color: "#555", align: "left" });
  });

  // ---- C ----
  const vTicksX = [-3,-2,-1,0,1,2], vTicksY = [0,1,2,3,4,5];
  const vc = addGrid(49, 1084, 665, 755,
    { type: "value", min: -3.4, max: 2.83, axisLine: { show: false, onZero: false }, axisTick: { customValues: vTicksX, length: 3, lineStyle: { color: "#444" } }, splitLine: { show: true, lineStyle: { color: "#fff", width: 2 } },
      axisLabel: { customValues: vTicksX, fontSize: 13.5, color: "#555", fontFamily: SANS, margin: 7 } },
    { type: "value", min: -.247, max: 5.247, axisLine: { show: false, onZero: false }, axisTick: { customValues: vTicksY, length: 3, lineStyle: { color: "#444" } }, splitLine: { show: true, lineStyle: { color: "#fff", width: 2 } },
      axisLabel: { customValues: vTicksY, fontSize: 13.5, color: "#555", fontFamily: SANS, margin: 7 } },
    { show: true, backgroundColor: "#ededed", borderWidth: 0 });
  rect(49, 1084, 58, 20, { fill: "#fff" }, 1);
  series.push({ type: "custom", xAxisIndex: vc, yAxisIndex: vc, silent: true, data: volcanoMinorX.map((v) => [v, 0]), renderItem: (pa: any, api: any) => {
    const a = api.coord([api.value(0), -.247]), b = api.coord([api.value(0), 5.247]);
    return { type: "line", shape: { x1: a[0], y1: a[1], x2: b[0], y2: b[1] }, style: { stroke: "#fff", lineWidth: 1 } };
  } });
  series.push({ type: "custom", xAxisIndex: vc, yAxisIndex: vc, silent: true, data: volcanoMinorY.map((v) => [0, v]), renderItem: (pa: any, api: any) => {
    const a = api.coord([-3.4, api.value(1)]), b = api.coord([2.83, api.value(1)]);
    return { type: "line", shape: { x1: a[0], y1: a[1], x2: b[0], y2: b[1] }, style: { stroke: "#fff", lineWidth: 1 } };
  } });
  const halos = [haloLeft, haloRight];
  series.push({ type: "custom", xAxisIndex: vc, yAxisIndex: vc, silent: true, data: [[0, 0], [0, 0]], renderItem: (pa: any, api: any) => ({
    type: "polygon", shape: { points: halos[pa.dataIndex].map((q) => api.coord(q)) }, style: { fill: "rgba(0,0,0,.36)" } }) });
  const masses = [massLeft, massRight];
  series.push({ type: "custom", xAxisIndex: vc, yAxisIndex: vc, silent: true, data: [[0, 0], [0, 0]], renderItem: (pa: any, api: any) => ({
    type: "polygon", shape: { points: masses[pa.dataIndex].map((q) => api.coord(q)) }, style: { fill: "#0a0a0a", stroke: "#0a0a0a", lineWidth: 3, lineJoin: "round" } }) });
  const sc = (data: number[][], color: string) => series.push({ type: "scatter", xAxisIndex: vc, yAxisIndex: vc, data, symbolSize: 8, itemStyle: { color }, silent: true });
  sc(notPoints, "rgba(0,0,0,.5)");
  sc(downPoints, "rgba(66,76,180,.68)");
  sc(upPoints, "rgba(232,50,58,.62)");
  txt("log2 fold change", 381, 1873, { size: 18, color: "#222" });
  txt("-log10 p-value", 19, 1461, { size: 17.5, color: "#222", rot: 90 });
  txt("change", 740, 1416, { size: 18, color: "#222", align: "left" });
  rect(740, 1431, 31, 84, { fill: "#f2f2f2" });
  [["DOWN","rgba(66,76,180,.7)",1446.5],["NOT","rgba(0,0,0,.5)",1474.5],["UP","rgba(232,50,58,.6)",1502.5]].forEach(([t,c,y]: any) => {
    g.push({ type: "circle", silent: true, z: 41, shape: { cx: 756, cy: y, r: 4.5 }, style: { fill: c } });
    txt(t, 779, y, { size: 15.4, color: "#222", align: "left" });
  });

  // ---- D ----
  const nodeUnit = (name: string) => { const a = (78.75 - 22.5 * netNodes.indexOf(name)) * Math.PI / 180; return [Math.cos(a), Math.sin(a)]; };
  const net = addGrid(860, 1106, 406, 546, hiddenAxis(-1.005, 1.005), hiddenAxis(-1, 1));
  const edges: { from: string; to: string; color: string }[] = [];
  netCategories.forEach((c, ci) => (netMembers as any)[c].forEach((gene: string) => edges.push({ from: gene, to: c, color: netColors[ci] })));
  series.push({ type: "custom", xAxisIndex: net, yAxisIndex: net, silent: true, clip: false, data: edges.map((e, i) => [i, i]), renderItem: (pa: any, api: any) => {
    const e = edges[pa.dataIndex];
    const a = nodeUnit(e.from), b = nodeUnit(e.to), s = .2;
    const c = [(a[0] + b[0]) / 2 * s, (a[1] + b[1]) / 2 * s];
    const pa1 = api.coord(a), pb = api.coord(b), pc = api.coord(c);
    return { type: "bezierCurve", shape: { x1: pa1[0], y1: pa1[1], x2: pb[0], y2: pb[1], cpx1: pc[0], cpy1: pc[1] }, style: { stroke: e.color, fill: "none", lineWidth: 1.5, opacity: .9 } };
  } });
  const catNodes = netNodes.slice(0, 5), geneNodes = netNodes.slice(5);
  series.push({ type: "scatter", xAxisIndex: net, yAxisIndex: net, clip: false, data: geneNodes.map(nodeUnit), symbolSize: 9, itemStyle: { color: "#b0b0b0" }, silent: true });
  series.push({ type: "scatter", xAxisIndex: net, yAxisIndex: net, clip: false, data: catNodes.map(nodeUnit), symbolSize: 25, itemStyle: { color: "#dcbd85" }, silent: true });
  const netGeneLabels: [string, number, number][] = [["SERPINB13",928,1132],["KRTDAP",1019,1120],["SPRR3",901,1209],["SPRR2E",889,1303],["SPRR2D",889,1458],["SPRR2A",911,1517],["LIPM",933,1630],["KRT76",1016,1665],["KRT75",1118,1665],["KRT13",1194,1629],["IVL",1244.5,1518.6]];
  netGeneLabels.forEach(([t,x,y]) => txt(t, x, y, { size: 19.2, family: SERIF, color: "#333" }));
  const netCatLabels: [string, number, number][] = [["cornification",1095,1116],["keratinization",1183,1138],["keratinocyte differentiation",1151,1225],["epidermal cell differentiation",1175,1325],["epidermis development",1190,1434]];
  netCatLabels.forEach(([t,x,y]) => txt(t, x, y, { size: 13.2, color: "#333" }));
  txt("size", 1290, 1263.5, { size: 12.5, color: "#333", align: "left" });
  [[1290,11.5,"9"],[1321,12,"10"],[1354,13,"11"]].forEach(([y,r,t]: any) => {
    g.push({ type: "circle", silent: true, z: 41, shape: { cx: 1306, cy: y, r }, style: { fill: "#0a0a0a" } });
    txt(t, 1330, y, { size: 10, color: "#444", align: "left" });
  });
  txt("category", 1290, 1386, { size: 13, color: "#333", align: "left" });
  netCategories.forEach((c, i) => {
    const y = 1409 + i * 20.5;
    hline(1291.5, y, 1308, y, netColors[i], 1.5);
    txt(c, 1316.5, y, { size: 10.4, color: "#444", align: "left" });
  });

  // ---- E ----
  const eTicks = [-6,-4,-2,0,2];
  const eg = addGrid(1657, 1108, 300, 530,
    { type: "value", min: -6.28, max: 2.65, axisLine: { show: false, onZero: false }, axisTick: { customValues: eTicks, length: 3, lineStyle: { color: "#777" } }, splitLine: { show: true, lineStyle: { color: "#f1f1f1" } },
      axisLabel: { customValues: eTicks, fontSize: 10, color: "#777", fontFamily: SANS, margin: 7 } },
    { type: "category", inverse: true, data: pathNames, axisLine: { show: false, onZero: false }, axisTick: { length: 3, alignWithLabel: true, lineStyle: { color: "#777" } },
      axisLabel: { interval: 0, fontSize: 9, color: "#777", fontFamily: SANS, margin: 5 } });
  series.push({ type: "bar", xAxisIndex: eg, yAxisIndex: eg, data: pathValues, barCategoryGap: "8%", silent: true,
    itemStyle: { color: (p: any) => (p.value > 0 ? "#e12a2d" : "#2c4c9a") } });
  rect(1657, 1105, 300, 536, { fill: "none", stroke: "#aaa", lineWidth: 1.5 });
  txt("Pathway Enrichment", 1807, 1090, { size: 14, color: "#333" });
  txt("log10P-value", 1806, 1666, { size: 12, color: "#333" });
  txt("Pathway names", 1455, 1373, { size: 13.6, color: "#333", rot: 90 });

  // ---- F ----
  const fTicks = [0,2,4,6,8,10];
  addGrid(851, 1686, 582, 315,
    { type: "value", min: 0, max: 10.32, axisLine: { show: false }, axisTick: { customValues: fTicks, length: 5, lineStyle: { color: "#333" } }, splitLine: { show: true, lineStyle: { color: "#aaa", width: 1.5 } },
      axisLabel: { customValues: fTicks, fontSize: 15, color: "#222", fontFamily: DEJA, margin: 8 } },
    hiddenAxis(0, 1), { show: true, borderColor: "#333", borderWidth: 1.5 });
  const fg = addGrid(851, 1696, 582, 295, hiddenAxis(0, 10.32),
    { type: "category", inverse: true, position: "right", data: goLabels, axisLine: { show: false }, axisTick: { show: false },
      axisLabel: { interval: 0, fontSize: 17.4, color: "#222", fontFamily: DEJA, margin: 6 } });
  series.push({ type: "bar", xAxisIndex: fg, yAxisIndex: fg, barCategoryGap: "17%", silent: true,
    data: goValues.map((v, i) => ({ value: v, itemStyle: { color: goFill[i], borderColor: "#8a8a7a", borderWidth: 1.5 } })) });
  txt("-log10(P)", 1141, 2038, { size: 15, family: DEJA, color: "#222" });

  // ---- G ----
  const polar = (deg: number, r: number) => { const a = deg * Math.PI / 180; return [r * Math.sin(a), r * Math.cos(a)]; };
  const arcPts = (a: number, b: number, r: number) => { const out: number[][] = []; const n = Math.max(2, Math.ceil(Math.abs(b - a) / 1.5)); for (let i = 0; i <= n; i++) out.push(polar(a + (b - a) * i / n, r)); return out; };
  const quad = (p0: number[], p1: number[]) => { const out: number[][] = []; for (let i = 1; i < 24; i++) { const t = i / 24, u = (1 - t) * (1 - t), w = t * t; out.push([u * p0[0] + w * p1[0], u * p0[1] + w * p1[1]]); } return out; };
  const termStart = (i: number) => (i === 0 ? .4 : chordTermEnds[i - 1]) + .5;
  const geneStart = (i: number) => (i === 0 ? 180.4 : chordGeneEnds[i - 1]) + .5;
  const R = .905;
  const ribbons: { pts: number[][]; fill: string; order: number }[] = [];
  chordTerms.forEach((_, t) => {
    const genesIn = chordGenes.map((_g, gi) => gi).filter((gi) => chordMembers[gi].includes(t)).reverse();
    const ts = termStart(t), te = chordTermEnds[t] - .1, w = (te - ts) / genesIn.length;
    genesIn.forEach((gi, pos) => {
      const gs = geneStart(gi), ge = chordGeneEnds[gi] - .1, m = chordMembers[gi], gw = (ge - gs) / m.length, gp = m.indexOf(t);
      const a1 = gs + gw * gp, a2 = a1 + gw, b1 = ts + w * pos, b2 = b1 + w;
      const arcA = arcPts(a1, a2, R), arcB = arcPts(b1, b2, R);
      ribbons.push({ pts: [...arcA, ...quad(arcA[arcA.length - 1], arcB[0]), ...arcB, ...quad(arcB[arcB.length - 1], arcA[0])], fill: chordColors[t], order: t });
    });
  });
  const rings: { pts: number[][]; fill: string }[] = [];
  chordTerms.forEach((_, t) => rings.push({ pts: [...arcPts(termStart(t), chordTermEnds[t] - .1, 1), ...arcPts(chordTermEnds[t] - .1, termStart(t), R)], fill: chordRingColors[t] }));
  chordGenes.forEach((_, i) => rings.push({ pts: [...arcPts(geneStart(i), chordGeneEnds[i] - .1, 1), ...arcPts(chordGeneEnds[i] - .1, geneStart(i), .94)], fill: chordGeneColors[i] }));
  const ch = addGrid(51, 1933, 500, 410, hiddenAxis(-1, 1), hiddenAxis(-1, 1));
  series.push({ type: "custom", xAxisIndex: ch, yAxisIndex: ch, silent: true, clip: false, data: ribbons.map((_, i) => [i, i]), renderItem: (pa: any, api: any) => {
    const r = ribbons[pa.dataIndex];
    return { type: "polygon", shape: { points: r.pts.map((q) => api.coord(q)) }, style: { fill: r.fill, stroke: "#1a1a1a", lineWidth: .7 } };
  } });
  series.push({ type: "custom", xAxisIndex: ch, yAxisIndex: ch, silent: true, clip: false, data: rings.map((_, i) => [i, i]), renderItem: (pa: any, api: any) => {
    const r = rings[pa.dataIndex];
    return { type: "polygon", shape: { points: r.pts.map((q) => api.coord(q)) }, style: { fill: r.fill, stroke: "#555", lineWidth: .8 } };
  } });
  const chordLabels: [string, number, number, number][] = [["ADH7",270,1906,-85],["KRT76",214.6,1916,-75],["KRTDAP",164,1933,-65],["UGT1A7",119,1959,-60],["UGT1A6",79.5,1992,-50],["SPRR2A",48,2031,-35],["SPRR2E",30,2073,-25],["SPRR3",22,2117,-8],["IVL",18.5,2163,5],["KRT75",30,2208,20],["LIPM",52,2251,50],["CYP2C18",83,2287,60],["KRT13",123,2320,70],["SPRR2D",169,2345,75],["SERPINB13",218,2362,85],["UGT1A8",274,2368,90]];
  chordLabels.forEach(([t,x,y,rot]) => txt(t, x, y, { size: 13, color: "#555", rot }));

  // GO legend
  const legendCols = [[677,717.5],[937,977],[1214,1254],[1517,1557.5]];
  const legendRows = [2133,2229,2327];
  const legendOrder = [[0,0,0],[1,1,0],[2,2,0],[3,3,0],[4,0,1],[5,1,1],[6,2,1],[7,3,1],[8,0,2],[9,1,2]];
  legendOrder.forEach(([t,c,r]) => {
    const [sx, tx] = legendCols[c]; const y = legendRows[r];
    rect(sx - 6, y - 11, 37, 77, { fill: "#f6f6f7" }, 39);
    rect(sx, y, 26, 56.5, { fill: chordColors[t] });
    rect(sx, y, 26, 2.2, { fill: "#111" }, 41);
    rect(sx, y + 54.3, 26, 2.2, { fill: "#111" }, 41);
    txt(chordTerms[t], tx, y + 29, { size: 30, color: "#222", align: "left", sx: .6 });
  });
  txt("GO Terms", 576.6, 2258, { size: 30, color: "#222", align: "left", sx: .6 });

  return { animation: false, backgroundColor: "#fff", textStyle: { fontFamily: SANS }, grid: grids, xAxis: xs, yAxis: ys, series, graphic: { elements: g } };
}

export default function App() {
  const ref = useRef<HTMLDivElement>(null);
  useEffect(() => {
    const chart = echarts.init(ref.current!, undefined, { renderer: "svg" });
    chart.setOption(buildOption() as any);
    return () => chart.dispose();
  }, []);
  return <div ref={ref} style={{ position: "absolute", left: 0, top: 0, width: 1960, height: 2396 }} />;
}
